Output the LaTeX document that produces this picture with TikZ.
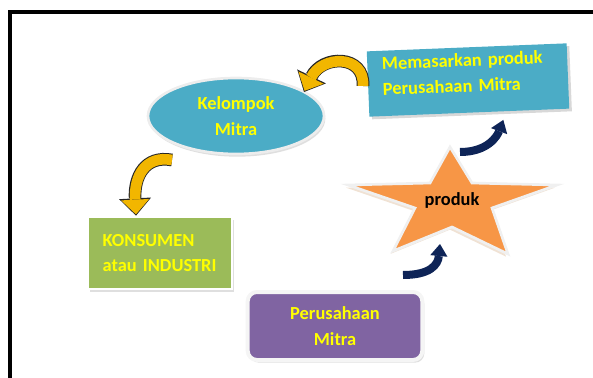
\documentclass[tikz,border=0pt]{standalone}
\usepackage{fontspec}
\setmainfont{Carlito}
\usetikzlibrary{shapes,arrows.meta,calc,positioning,shadows}

\definecolor{mitrablue}{HTML}{4BACC6}
\definecolor{konsgreen}{HTML}{9BBB59}
\definecolor{perpurple}{HTML}{8064A2}
\definecolor{starorange}{HTML}{F79646}
\definecolor{arrowgold}{HTML}{F2B600}
\definecolor{arrownavy}{HTML}{0E2457}
\definecolor{textyellow}{HTML}{FFFF00}

\begin{document}
\begin{tikzpicture}[x=0.75pt,y=-0.75pt]

  \tikzstyle{boxtext} = [font=\fontsize{13.8}{19}\selectfont\bfseries, text=textyellow]
  \tikzstyle{oval} = [boxtext, ellipse, fill=mitrablue, draw=black!7, line width=2pt, minimum width=132pt, minimum height=57pt, align=center, drop shadow={shadow xshift=1pt, shadow yshift=-2pt, fill=black!25}]
  \tikzstyle{pasarbox} = [boxtext, fill=mitrablue, minimum width=150pt, minimum height=49pt, text width=128pt, inner xsep=10pt, align=left, drop shadow={shadow xshift=2pt, shadow yshift=-2pt, fill=black!30}]
  \tikzstyle{konsbox} = [boxtext, fill=konsgreen, draw=white, line width=2pt, minimum width=108pt, minimum height=54pt, text width=86pt, inner xsep=10pt, align=left, drop shadow={shadow xshift=1.5pt, shadow yshift=-2pt, fill=black!25}]
  \tikzstyle{perbox} = [boxtext, fill=perpurple, draw=black!4, line width=3pt, rounded corners=7pt, minimum width=131pt, minimum height=51pt, align=center, drop shadow={shadow xshift=1.5pt, shadow yshift=-2pt, fill=black!25}]
  \tikzstyle{goldarrow} = [draw=arrowgold, line width=8pt, shorten >=1pt, -{Triangle[length=11pt,width=21pt,line width=0pt]}, preaction={draw=black!85, line width=9.5pt, shorten >=0pt, -{Triangle[length=13pt,width=24pt,line width=0pt]}}]
  \tikzstyle{navyarrow} = [draw=arrownavy, line width=6pt, -{Triangle[length=9pt,width=13pt,line width=0pt]}]

  \clip (0,0) rectangle (593,378);
  \useasboundingbox (0,0) rectangle (593,378);

  % frame round the figure
  \draw[line width=3pt] (10,400) -- (10,12.5) -- (620,12.5);

  \node[oval] (mitra) at (236,116) {Kelompok\\Mitra};
  \node[pasarbox, rotate=2.3] (pasar) at (468,80) {Memasarkan produk\\Perusahaan Mitra\\[-8pt]\mbox{}};
  \node[konsbox] (konsumen) at (160,253) {KONSUMEN\\atau INDUSTRI};
  \node[perbox] (perusahaan) at (335,326) {Perusahaan\\Mitra};

  % the star
  \filldraw[fill=starorange, draw=black!6, line width=2pt, drop shadow={shadow xshift=-1.5pt, shadow yshift=-2pt, fill=brown!45}]
    (450,147) -- (472,183) -- (557,185) -- (492,208) -- (508,254) -- (452,227)
    -- (393,251) -- (415,208) -- (348,185) -- (430,183) -- cycle;
  \node[font=\fontsize{13.8}{19}\selectfont\bfseries] (produk) at (452,200) {produk};

  \draw[goldarrow] ([shift={(-105,6)}]pasar.center) .. controls (365,54) and (322,55) .. ([shift={(68,-24)}]mitra.center);
  \draw[goldarrow] ([shift={(-64,44)}]mitra.center) .. controls +(-27,-5) and +(-2,-39) .. ([xshift=-18pt]konsumen.north);

  \draw[navyarrow] ([shift={(8,-48)}]produk.center) .. controls +(28,0) and +(-6,16) .. ([shift={(34,7)}]pasar.south);
  \draw[navyarrow] ([shift={(68,-15)}]perusahaan.north) .. controls +(27,0) and +(-2,21) .. ([shift={(-12,44)}]produk.center);

%  \node at (300,370) {};

\end{tikzpicture}
\end{document}
